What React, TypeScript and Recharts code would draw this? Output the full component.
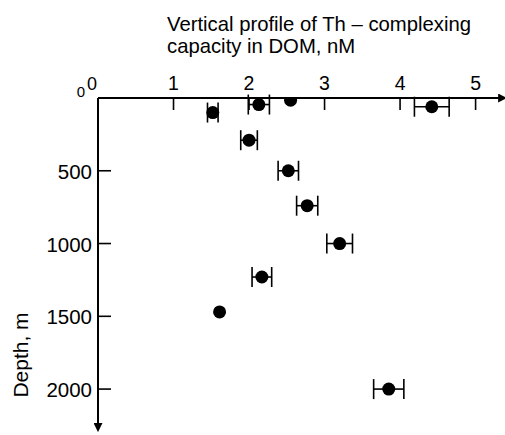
import { ScatterChart, Scatter, XAxis, YAxis, ErrorBar, Label } from "recharts";

// depth (m) of each sample and its Th-complexing capacity (nM) with +/- error
const depth = [15, 45, 60, 100, 290, 500, 740, 1000, 1230, 1470, 2000];
const capacity = [2.55, 2.13, 4.42, 1.52, 2.0, 2.52, 2.77, 3.2, 2.17, 1.61, 3.85];
const capacityErr = [0, 0.14, 0.23, 0.07, 0.11, 0.135, 0.14, 0.17, 0.13, 0, 0.2];

const xTicks = [0, 1, 2, 3, 4, 5];
const yTicks = [0, 500, 1000, 1500, 2000];

const titleLines = ["Vertical profile of Th \u2013 complexing", "capacity in DOM, nM"];
const yTitle = "Depth, m";

const data = depth.map((d, i) => ({ depth: d, cap: capacity[i], err: capacityErr[i] }));

const FONT = "Liberation Sans";

const XTick = (props: any) => {
  const { x, y, payload } = props;
  const zero = payload.value === 0;
  return (
    <g>
      <line x1={x} y1={y} x2={x} y2={y + 12} stroke="#000" strokeWidth={1.6} />
      <text
        x={zero ? x - 6 : x}
        y={y - 8}
        textAnchor="middle"
        fontFamily={FONT}
        fontSize={zero ? 18 : 19.5}
        fill="#000"
      >
        {payload.value}
      </text>
    </g>
  );
};

const YTick = (props: any) => {
  const { x, y, payload } = props;
  const zero = payload.value === 0;
  return (
    <g>
      <line x1={x} y1={y} x2={x + 13} y2={y} stroke="#000" strokeWidth={1.6} />
      <text
        x={zero ? x - 13 : x - 6}
        y={zero ? y - 1 : y + 8}
        textAnchor="end"
        fontFamily={FONT}
        fontSize={zero ? 15 : 20.5}
        fill="#000"
      >
        {payload.value}
      </text>
    </g>
  );
};

const Dot = (props: any) => <circle cx={props.cx} cy={props.cy} r={6.5} fill="#000" />;

export default function App() {
  return (
    <div style={{ position: "absolute", left: 0, top: 0, background: "#fff" }}>
      <ScatterChart width={505} height={435} margin={{ top: 0, right: 6, bottom: 11, left: 0 }}>
        <defs>
          <marker
            id="arrow"
            viewBox="0 0 10 10"
            refX="1"
            refY="5"
            markerWidth="9"
            markerHeight="9"
            markerUnits="userSpaceOnUse"
            orient="auto"
          >
            <path d="M0,0 L10,5 L0,10 z" fill="#000" />
          </marker>
        </defs>
        <XAxis
          type="number"
          dataKey="cap"
          orientation="top"
          domain={[0, 5.31]}
          ticks={xTicks}
          height={98}
          tickSize={0}
          tickMargin={0}
          tickLine={false}
          tick={<XTick />}
          axisLine={{ stroke: "#000", strokeWidth: 2, markerEnd: "url(#arrow)" }}
          allowDataOverflow
        >
          <Label
            content={() => (
              <g fontFamily={FONT} fontSize={20.3} fill="#000">
                <text x={167} y={31}>{titleLines[0]}</text>
                <text x={167} y={53}>{titleLines[1]}</text>
              </g>
            )}
          />
        </XAxis>
        <YAxis
          type="number"
          dataKey="depth"
          reversed
          domain={[0, 2240]}
          ticks={yTicks}
          width={98}
          tickSize={0}
          tickMargin={0}
          tickLine={false}
          tick={<YTick />}
          axisLine={{ stroke: "#000", strokeWidth: 2, markerEnd: "url(#arrow)" }}
          allowDataOverflow
        >
          <Label
            content={() => (
              <text
                x={28}
                y={355}
                transform="rotate(-90 28 355)"
                textAnchor="middle"
                fontFamily={FONT}
                fontSize={21}
                fill="#000"
              >
                {yTitle}
              </text>
            )}
          />
        </YAxis>
        <Scatter data={data} shape={<Dot />} isAnimationActive={false}>
          <ErrorBar dataKey="err" direction="x" width={10} stroke="#000" strokeWidth={1.6} />
        </Scatter>
      </ScatterChart>
    </div>
  );
}
